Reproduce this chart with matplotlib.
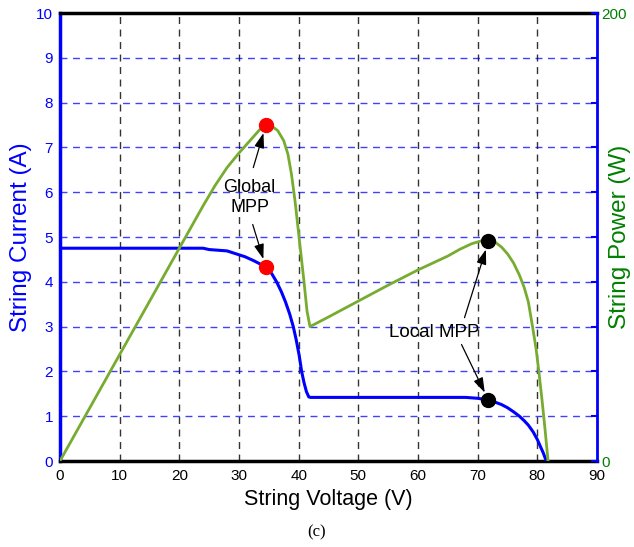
import matplotlib
matplotlib.use("Agg")
import matplotlib.pyplot as plt

# --- datos ---
voltaje_i = [0, 10, 20, 24, 25, 28, 31, 32.5, 33.8, 34.5, 35.5, 36.3, 37.1,
             37.8, 38.5, 39.1, 39.6, 40.1, 40.5, 40.9, 41.3, 41.7, 42, 50, 60,
             68, 69, 70, 71, 71.7, 73, 74, 75, 76, 77, 77.8, 78.5, 79.3, 80,
             80.5, 81, 81.5]
corriente = [4.75, 4.75, 4.75, 4.75, 4.72, 4.69, 4.56, 4.47, 4.38, 4.33, 4.18,
             4.0, 3.78, 3.55, 3.28, 3.0, 2.7, 2.35, 2.0, 1.75, 1.55, 1.43,
             1.42, 1.42, 1.42, 1.42, 1.41, 1.40, 1.38, 1.36, 1.31, 1.26, 1.19,
             1.10, 1.0, 0.9, 0.8, 0.65, 0.48, 0.33, 0.18, 0.0]

voltaje_p = [0, 20, 24, 26, 28, 30, 32, 33.5, 34.5, 35.5, 36.5, 37.5, 38.2,
             38.8, 39.4, 39.9, 40.4, 40.9, 41.4, 41.9, 45, 50, 55, 60, 65, 67,
             69, 70.5, 71.7, 72.8, 74, 75, 76, 77, 77.8, 78.5, 79.2, 79.8,
             80.3, 80.8, 81.3, 81.8]
potencia = [0, 95, 114, 123, 131, 137.5, 143.5, 148, 150, 149.5, 147.5, 143,
            137, 128, 116, 104, 92, 80, 67, 60, 64.3, 71.4, 78.5, 85.3, 91.5,
            94.5, 97, 98.2, 98.6, 98, 95.5, 92.5, 88.5, 83, 77.5, 71, 60, 50,
            39, 27, 14, 0]

mpp_global = (34.5, 4.33, 150)
mpp_local = (71.8, 1.36, 98)

AZUL = "#0000FF"
VERDE_CURVA = "#77AC30"
VERDE_TXT = "#008000"

plt.rcParams["font.family"] = ["Liberation Sans", "DejaVu Sans"]

fig = plt.figure(figsize=(6.34, 5.47), dpi=100)
ax = fig.add_axes([0.0946, 0.1572, 0.847, 0.819])
ax2 = ax.twinx()

# rejilla: vertical negra, horizontal azul
for xv in range(10, 90, 10):
    ax.axvline(xv, color="#333333", ls=(0, (5, 4)), lw=1.0, zorder=0)
for yv in range(1, 10):
    ax.axhline(yv, color=AZUL, ls=(0, (5, 4)), lw=1.0, alpha=0.75, zorder=0)

ax.plot(voltaje_i, corriente, color=AZUL, lw=2.2, zorder=3)
ax2.plot(voltaje_p, potencia, color=VERDE_CURVA, lw=2.0, zorder=3)

ax.plot(mpp_global[0], mpp_global[1], "o", color="red", ms=10, zorder=5)
ax2.plot(mpp_global[0], mpp_global[2], "o", color="red", ms=10, zorder=5)
ax.plot(mpp_local[0], mpp_local[1], "o", color="black", ms=10, zorder=5)
ax2.plot(mpp_local[0], mpp_local[2], "o", color="black", ms=10, zorder=5)

ax.set_xlim(0, 90)
ax.set_ylim(0, 10)
ax2.set_ylim(0, 200)
ax.set_xticks(range(0, 91, 10))
ax.set_yticks(range(0, 11))
ax2.set_yticks(range(0, 201, 20))
ax2.set_yticklabels(["0"] + [""] * 9 + ["200"])

ax.tick_params(axis="x", direction="in", length=0, labelsize=11, pad=6)
ax.tick_params(axis="y", direction="in", length=0, labelsize=11,
               labelcolor=AZUL, pad=5)
ax2.tick_params(axis="y", direction="in", length=4, width=1.5, color=AZUL,
                labelsize=11, labelcolor=VERDE_TXT, pad=3)

for s in ("top", "bottom"):
    ax.spines[s].set_color("black")
    ax.spines[s].set_linewidth(2.5)
ax.spines["left"].set_color(AZUL)
ax.spines["left"].set_linewidth(2.5)
ax.spines["right"].set_visible(False)
for s in ("top", "bottom", "left"):
    ax2.spines[s].set_visible(False)
ax2.spines["right"].set_color(AZUL)
ax2.spines["right"].set_linewidth(2.0)

ax.set_xlabel("String Voltage (V)", fontsize=15.5, labelpad=4)
ax.set_ylabel("String Current (A)", fontsize=17.5, color=AZUL)
ax.yaxis.set_label_coords(-0.052, 0.5)
ax2.set_ylabel("String Power (W)", fontsize=17.5, color=VERDE_TXT)
ax2.yaxis.set_label_coords(1.023, 0.5)

# anotaciones
flecha = dict(arrowstyle="-|>,head_length=0.9,head_width=0.3",
              color="black", lw=0.9, shrinkA=0, shrinkB=6)
ax.text(31.8, 5.88, "Global\nMPP", fontsize=13, ha="center", va="center",
        linespacing=1.2, zorder=6)
ax.annotate("", xy=(mpp_global[0], mpp_global[2] / 20), xytext=(32.4, 6.55),
            arrowprops=flecha, zorder=6)
ax.annotate("", xy=(mpp_global[0], mpp_global[1]), xytext=(32.3, 5.28),
            arrowprops=flecha, zorder=6)

ax.text(62.8, 2.86, "Local MPP", fontsize=13.5, ha="center", va="center",
        zorder=6)
ax.annotate("", xy=(mpp_local[0], mpp_local[2] / 20), xytext=(67.8, 3.2),
            arrowprops=flecha, zorder=6)
ax.annotate("", xy=(mpp_local[0], mpp_local[1]), xytext=(67.3, 2.6),
            arrowprops=flecha, zorder=6)

fig.text(0.5, 0.027, "(c)", fontsize=12, ha="center", va="center",
         family=["Liberation Serif", "DejaVu Serif"])

fig.savefig("out.png", dpi=100)
